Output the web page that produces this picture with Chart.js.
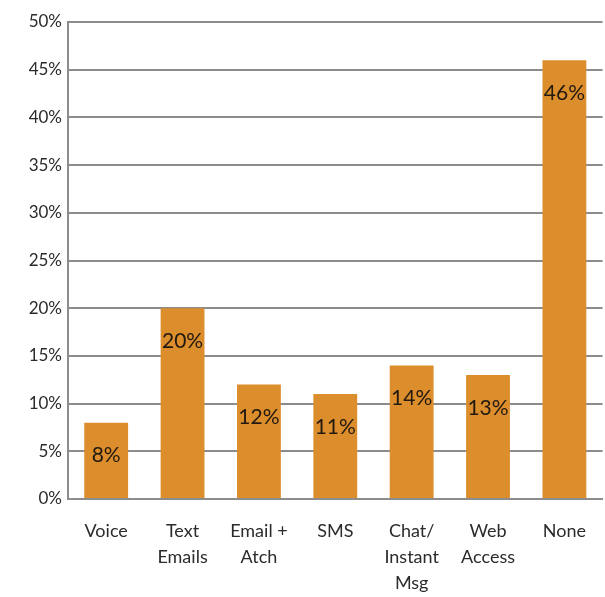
<!DOCTYPE html>
<html>
<head>
<meta charset="utf-8">
<script src="https://cdn.jsdelivr.net/npm/chart.js@4/dist/chart.umd.min.js"></script>
<style>
  html, body { margin: 0; padding: 0; background: #fff; }
  #wrap { width: 605px; height: 597px; }
</style>
</head>
<body>
<div id="wrap"><canvas id="grafico" width="605" height="597"></canvas></div>
<script>
const categorias = [
  ['Voice'], ['Text', 'Emails'], ['Email +', 'Atch'], ['SMS'],
  ['Chat/', 'Instant', 'Msg'], ['Web', 'Access'], ['None']
];
const percentuais = [8, 20, 12, 11, 14, 13, 46];
const ticksY = [0, 5, 10, 15, 20, 25, 30, 35, 40, 45, 50];

const FONTE = 'Lato, "Open Sans", sans-serif';

// escreve o percentual dentro da barra, um pouco abaixo do topo
const rotulosBarras = {
  id: 'rotulosBarras',
  afterDatasetsDraw(chart) {
    const ctx = chart.ctx;
    const meta = chart.getDatasetMeta(0);
    ctx.save();
    ctx.font = '21px ' + FONTE;
    ctx.fillStyle = '#221a10';
    ctx.textAlign = 'center';
    ctx.textBaseline = 'middle';
    meta.data.forEach((bar, i) => {
      ctx.fillText(percentuais[i] + '%', bar.x, bar.y + 33);
    });
    ctx.restore();
  }
};

// degradê horizontal leve em cada barra
function corBarra(context) {
  const bar = context.element;
  if (!bar || bar.width === undefined || !isFinite(bar.x)) return '#dc8d2c';
  const g = context.chart.ctx.createLinearGradient(bar.x - bar.width / 2, 0, bar.x + bar.width / 2, 0);
  g.addColorStop(0, '#d3842a');
  g.addColorStop(0.5, '#e0932e');
  g.addColorStop(1, '#d1822a');
  return g;
}

new Chart(document.getElementById('grafico'), {
  type: 'bar',
  data: {
    labels: categorias,
    datasets: [{
      data: percentuais,
      backgroundColor: corBarra,
      borderWidth: 0,
      barPercentage: 0.574,
      categoryPercentage: 1
    }]
  },
  options: {
    responsive: false,
    animation: false,
    events: [],
    layout: { padding: { top: 22, right: 0, left: 0, bottom: 0 } },
    plugins: { legend: { display: false }, tooltip: { enabled: false } },
    scales: {
      x: {
        grid: { display: false, drawTicks: false },
        border: { display: true, color: '#8c8c8c', width: 2 },
        ticks: {
          color: '#2b2b2b',
          font: { family: FONTE, size: 18, lineHeight: 1.45 },
          padding: 19,
          maxRotation: 0,
          autoSkip: false
        },
        afterFit(scale) { scale.height = 98; }
      },
      y: {
        min: 0,
        max: 50,
        afterBuildTicks(scale) { scale.ticks = ticksY.map(v => ({ value: v })); },
        grid: { color: '#8c8c8c', lineWidth: 2, drawTicks: false },
        border: { display: true, color: '#8c8c8c', width: 2 },
        ticks: {
          color: '#2b2b2b',
          font: { family: FONTE, size: 17 },
          padding: 6,
          callback: v => v + '%'
        },
        afterFit(scale) { scale.width = 68; }
      }
    }
  },
  plugins: [rotulosBarras]
});
</script>
</body>
</html>
